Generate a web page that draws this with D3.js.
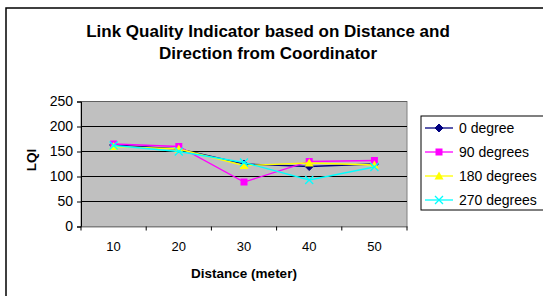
<!DOCTYPE html>
<html>
<head>
<meta charset="utf-8">
<script src="https://cdn.jsdelivr.net/npm/d3@7"></script>
<style>
  body { margin: 0; background: #fff; }
  text { font-family: "Liberation Sans", Arial, sans-serif; }
</style>
</head>
<body>
<div id="chart"></div>
<script>
// chart data
var distances = ["10", "20", "30", "40", "50"];
var deg0   = [163, 155, 125, 120, 125];
var deg90  = [165, 160, 89, 130, 132];
var deg180 = [160, 155, 122, 127, 123];
var deg270 = [162, 150, 128, 93, 119];
var yTicks = [0, 50, 100, 150, 200, 250];

var series = [
  {name: "0 degree",    values: deg0,   color: "#000080", marker: "diamond"},
  {name: "90 degrees",  values: deg90,  color: "#FF00FF", marker: "square"},
  {name: "180 degrees", values: deg180, color: "#FFFF00", marker: "triangle"},
  {name: "270 degrees", values: deg270, color: "#00FFFF", marker: "cross"}
];

var W = 543, H = 296;
var svg = d3.select("#chart").append("svg").attr("width", W).attr("height", H);

// outer chart frame
svg.append("rect").attr("x", 6).attr("y", 8).attr("width", 540).attr("height", 300)
  .attr("fill", "#fff").attr("stroke", "#000").attr("stroke-width", 1.5);

var title = svg.append("text").attr("text-anchor", "middle")
  .attr("font-size", "17px").attr("font-weight", "bold");
title.append("tspan").attr("x", 268).attr("y", 37).text("Link Quality Indicator based on Distance and");
title.append("tspan").attr("x", 268).attr("y", 59).text("Direction from Coordinator");

var x = d3.scaleBand().domain(distances).range([81, 407]).padding(0);
var y = d3.scaleLinear().domain([0, 250]).range([226.5, 101.5]);

// plot area
svg.append("rect").attr("x", 81).attr("y", y(250)).attr("width", 326).attr("height", y(0) - y(250))
  .attr("fill", "#C0C0C0").attr("stroke", "#808080");

// gridlines
svg.append("g").selectAll("line").data(yTicks.filter(d => d > 0)).join("line")
  .attr("x1", 81).attr("x2", 407).attr("y1", d => y(d)).attr("y2", d => y(d))
  .attr("stroke", d => d == 250 ? "#606060" : "#000").attr("stroke-width", 1);

// y axis
var yAxis = svg.append("g").attr("transform", "translate(81,0)")
  .call(d3.axisLeft(y).tickValues(yTicks).tickSize(4).tickPadding(4));
yAxis.select(".domain").attr("stroke", "#000");
yAxis.selectAll("text").attr("font-size", "14px").attr("font-family", "Liberation Sans, Arial, sans-serif").attr("fill", "#000");

// x axis: ticks sit between categories
var xAxis = svg.append("g").attr("transform", "translate(0," + y(0) + ")")
  .call(d3.axisBottom(x).tickSize(0).tickPadding(15));
xAxis.select(".domain").attr("stroke", "#808080");
xAxis.selectAll("text").attr("font-size", "13px").attr("font-family", "Liberation Sans, Arial, sans-serif").attr("fill", "#000");
svg.append("g").selectAll("line").data(distances.concat(["end"])).join("line")
  .attr("x1", (d, i) => 81 + i * x.bandwidth()).attr("x2", (d, i) => 81 + i * x.bandwidth())
  .attr("y1", y(0)).attr("y2", y(0) + 4).attr("stroke", "#000");

svg.append("text").attr("x", 244).attr("y", 278).attr("text-anchor", "middle")
  .attr("font-size", "13.5px").attr("font-weight", "bold").text("Distance (meter)");
svg.append("text").attr("transform", "translate(36,160) rotate(-90)").attr("text-anchor", "middle")
  .attr("font-size", "13.5px").attr("font-weight", "bold").text("LQI");

function drawMarker(g, type, color) {
  if (type == "diamond") {
    g.append("path").attr("d", "M0,-4L4,0L0,4L-4,0Z").attr("fill", color).attr("stroke", color);
  } else if (type == "square") {
    g.append("rect").attr("x", -3.5).attr("y", -3.5).attr("width", 7).attr("height", 7).attr("fill", color);
  } else if (type == "triangle") {
    g.append("path").attr("d", "M0,-4.5L4.5,3.5L-4.5,3.5Z").attr("fill", color);
  } else {
    g.append("path").attr("d", "M-4,-4L4,4M4,-4L-4,4").attr("stroke", color).attr("stroke-width", 1.3).attr("fill", "none");
  }
}

var line = d3.line().x((d, i) => x(distances[i]) + x.bandwidth() / 2).y(d => y(d));

series.forEach(function(s) {
  svg.append("path").datum(s.values).attr("d", line)
    .attr("fill", "none").attr("stroke", s.color).attr("stroke-width", 1.3);
  s.values.forEach(function(v, i) {
    var g = svg.append("g").attr("transform", "translate(" + (x(distances[i]) + x.bandwidth() / 2) + "," + y(v) + ")");
    drawMarker(g, s.marker, s.color);
  });
});

// legend
var leg = svg.append("g");
leg.append("rect").attr("x", 421).attr("y", 116).attr("width", 130).attr("height", 94)
  .attr("fill", "#fff").attr("stroke", "#000");
series.forEach(function(s, i) {
  var ly = 128 + i * 24;
  leg.append("line").attr("x1", 425).attr("x2", 453).attr("y1", ly).attr("y2", ly)
    .attr("stroke", s.color).attr("stroke-width", 1.3);
  drawMarker(leg.append("g").attr("transform", "translate(439," + ly + ")"), s.marker, s.color);
  leg.append("text").attr("x", 459).attr("y", ly + 5).attr("font-size", "14px").text(s.name);
});
</script>
</body>
</html>
